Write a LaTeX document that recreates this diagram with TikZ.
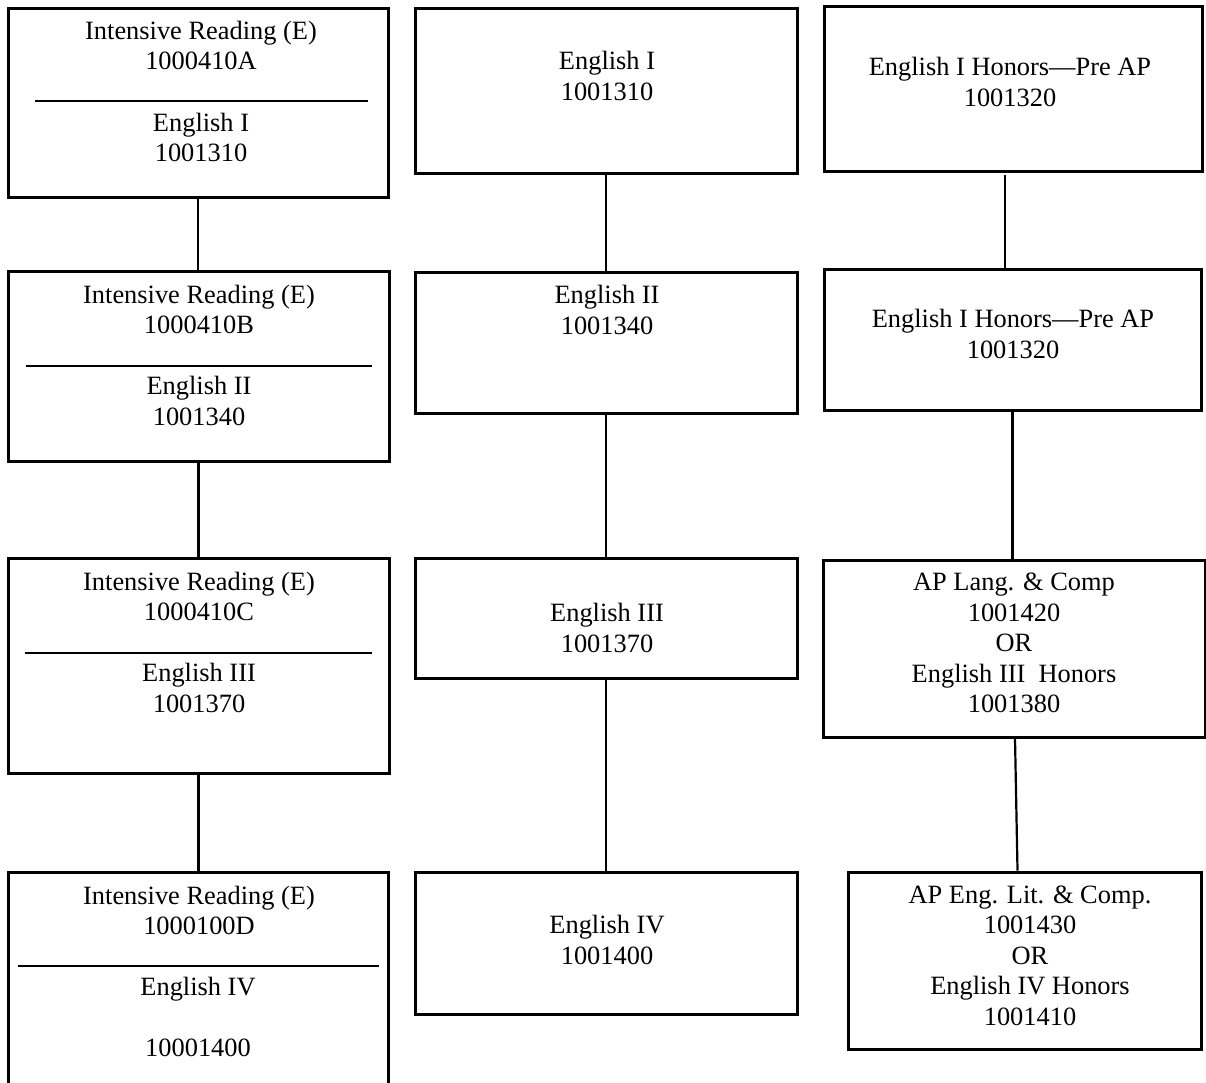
\documentclass[tikz,border=0pt]{standalone}
\usepackage{fontspec}
\setmainfont{Liberation Serif}
\usetikzlibrary{calc}
\tikzset{
  box/.style={draw=black, line width=3pt, rectangle, inner sep=0pt, fill=white},
  txt/.style={font=\fontsize{26.4}{30.5}\selectfont, align=center, inner sep=0pt, anchor=north},
  conn/.style={draw=black, line width=2.2pt},
  sepline/.style={draw=black, line width=1.3pt}
}
\begin{document}
\begin{tikzpicture}[x=1pt,y=-1pt]
\useasboundingbox (0,0) rectangle (1206,1082);
\clip (0,0) rectangle (1206,1082);
% ---------------- left column
\node[box, minimum width=380pt, minimum height=189pt] (L1) at (198,102.5) {};
\node[box, minimum width=381pt, minimum height=190pt] (L2) at (198.5,366) {};
\node[box, minimum width=381pt, minimum height=215pt] (L3) at (198.5,665.5) {};
\node[box, minimum width=380pt, minimum height=223pt] (L4) at (198,983.5) {};
% ---------------- middle column
\node[box, minimum width=382pt, minimum height=165pt] (M1) at (606,90.5) {};
\node[box, minimum width=382pt, minimum height=141pt] (M2) at (606,342.5) {};
\node[box, minimum width=382pt, minimum height=120pt] (M3) at (606,618) {};
\node[box, minimum width=382pt, minimum height=142pt] (M4) at (606,943) {};
% ---------------- right column
\node[box, minimum width=378pt, minimum height=165pt] (R1) at (1013,88.5) {};
\node[box, minimum width=377pt, minimum height=141pt] (R2) at (1012.5,339.5) {};
\node[box, minimum width=382pt, minimum height=177pt] (R3) at (1014,648.5) {};
\node[box, minimum width=353pt, minimum height=177pt] (R4) at (1024.5,960.5) {};
% ---------------- texts, left
\node[txt] (L1a) at (201,17.65) {\strut Intensive Reading (E)\\1000410A};
\node[txt] (L1b) at (201,109.65) {\strut English I\\1001310};
\node[txt] (L2a) at (199,281.65) {\strut Intensive Reading (E)\\1000410B};
\node[txt] (L2b) at (199,373.15) {\strut English II\\1001340};
\node[txt] (L3a) at (199,568.65) {\strut Intensive Reading (E)\\1000410C};
\node[txt] (L3b) at (199,660.15) {\strut English III\\1001370};
\node[txt] (L4a) at (199,882.65) {\strut Intensive Reading (E)\\1000100D};
\node[txt] (L4b) at (198,973.65) {\strut English IV\\[30.5pt]10001400};
\draw[sepline] (35,101) -- (368,101);
\draw[sepline] (26,366) -- (372,366);
\draw[sepline] (25,653) -- (372,653);
\draw[sepline] (18,966) -- (379,966);
% ---------------- texts, middle
\node[txt] (M1t) at (607,48.15) {\strut English I\\1001310};
\node[txt] (M2t) at (607,282.15) {\strut English II\\1001340};
\node[txt] (M3t) at (607,600.15) {\strut English III\\1001370};
\node[txt] (M4t) at (607,912.15) {\strut English IV\\1001400};
% ---------------- texts, right
\node[txt] (R1t) at (1010,54.15) {\strut English I Honors—Pre AP\\1001320};
\node[txt] (R2t) at (1013,306.15) {\strut English I Honors—Pre AP\\1001320};
\node[txt] (R3t) at (1014,569.15) {\strut AP Lang. \& Comp\\1001420\\OR\\English III\ \ Honors\\1001380};
\node[txt] (R4t) at (1030,881.65) {\strut AP Eng. Lit. \& Comp.\\1001430\\OR\\English IV Honors\\1001410};
% ---------------- connectors
\draw[conn] (L1.south) -- (L1.south |- L2.north);
\draw[conn] (L2.south) -- (L2.south |- L3.north);
\draw[conn] (L3.south) -- (L3.south |- L4.north);
\draw[conn] (M1.south) -- (M1.south |- M2.north);
\draw[conn] (M2.south) -- (M2.south |- M3.north);
\draw[conn] (M3.south) -- (M3.south |- M4.north);
\coordinate (r12) at (1005,175);
\draw[conn] (r12) -- (r12 |- R2.north);
\draw[conn] (R2.south) -- (R2.south |- R3.north);
\draw[conn] ($(R3.south)+(1,0)$) -- ($(R4.north)+(-7,0)$);
\end{tikzpicture}
\end{document}
